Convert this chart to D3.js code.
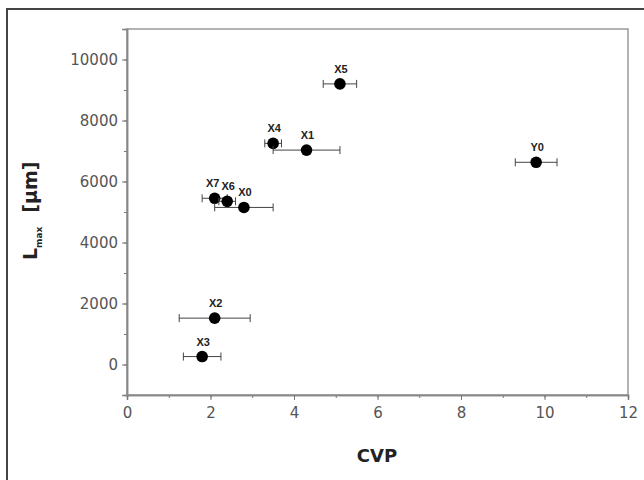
<!DOCTYPE html>
<head>
  <meta charset="utf-8">
  <script src="https://cdn.jsdelivr.net/npm/d3@7"></script>
  <style>
    body { margin:0; background:#fff; }
    .tick text { font-family: "DejaVu Sans", sans-serif; font-size: 15px; fill: #555; }
    .lbl { font-family: Arial, "Liberation Sans", sans-serif; font-weight: bold; font-size: 11px; fill: #222; }
    .title { font-family: "DejaVu Sans", sans-serif; font-weight: bold; fill: #222; }
  </style>
</head>
<body>
<script>
  // data
  var names = ["X5", "X4", "X1", "Y0", "X7", "X6", "X0", "X2", "X3"];
  var cvp   = [5.1, 3.5, 4.3, 9.8, 2.1, 2.4, 2.8, 2.1, 1.8];
  var cvpErr = [0.4, 0.2, 0.8, 0.5, 0.3, 0.2, 0.7, 0.85, 0.45];
  var lmax  = [9200, 7250, 7030, 6630, 5450, 5350, 5150, 1520, 260];
  var xTicks = [0, 2, 4, 6, 8, 10, 12];
  var yTicks = [0, 2000, 4000, 6000, 8000, 10000];

  var width = 644, height = 480;
  var margin = {top: 29, left: 127, right: 16, bottom: 85};

  var svg = d3.select("body").append("svg")
      .attr("width", width)
      .attr("height", height);

  // outer frame (only top + left visible in the picture)
  svg.append("path")
      .attr("d", "M7,480V9H644")
      .attr("fill", "none")
      .attr("stroke", "#444")
      .attr("stroke-width", 2);

  var x = d3.scaleLinear().domain([0, 12]).range([margin.left, width - margin.right]);
  var y = d3.scaleLinear().domain([-1000, 11000]).range([height - margin.bottom, margin.top]);

  // box
  svg.append("rect")
      .attr("x", x(0)).attr("y", y(11000))
      .attr("width", x(12) - x(0)).attr("height", y(-1000) - y(11000))
      .attr("fill", "none").attr("stroke", "#999").attr("stroke-width", 1.5);

  // minor ticks
  var xAxisMinor = d3.axisBottom(x).tickValues(d3.range(0, 13, 1)).tickSize(3).tickFormat("");
  var yAxisMinor = d3.axisLeft(y).tickValues(d3.range(-1000, 11001, 1000)).tickSize(3).tickFormat("");
  svg.append("g").attr("transform", "translate(0," + y(-1000) + ")").call(xAxisMinor);
  svg.append("g").attr("transform", "translate(" + x(0) + ",0)").call(yAxisMinor);

  var gx = svg.append("g")
      .attr("transform", "translate(0," + y(-1000) + ")")
      .call(d3.axisBottom(x).tickValues(xTicks).tickSize(5).tickPadding(7).tickFormat(d3.format("d")));
  var gy = svg.append("g")
      .attr("transform", "translate(" + x(0) + ",0)")
      .call(d3.axisLeft(y).tickValues(yTicks).tickSize(5).tickPadding(4).tickFormat(d3.format("d")));

  svg.selectAll(".domain").attr("stroke", "#888").attr("stroke-width", 1.5);
  svg.selectAll(".tick line").attr("stroke", "#777");

  // error bars
  var pts = names.map(function(n, i) {
    return {name: n, x: cvp[i], e: cvpErr[i], y: lmax[i]};
  });

  var eb = svg.append("g").selectAll("g").data(pts).enter().append("g");
  eb.append("line")
      .attr("x1", function(d) { return x(d.x - d.e); })
      .attr("x2", function(d) { return x(d.x + d.e); })
      .attr("y1", function(d) { return y(d.y); })
      .attr("y2", function(d) { return y(d.y); })
      .attr("stroke", "#444").attr("stroke-width", 1);
  [-1, 1].forEach(function(s) {
    eb.append("line")
        .attr("x1", function(d) { return x(d.x + s * d.e); })
        .attr("x2", function(d) { return x(d.x + s * d.e); })
        .attr("y1", function(d) { return y(d.y) - 4; })
        .attr("y2", function(d) { return y(d.y) + 4; })
        .attr("stroke", "#444").attr("stroke-width", 1);
  });

  eb.append("circle")
      .attr("cx", function(d) { return x(d.x); })
      .attr("cy", function(d) { return y(d.y); })
      .attr("r", 5.8)
      .attr("fill", "#000");

  eb.append("text")
      .attr("class", "lbl")
      .attr("x", function(d) { return x(d.x) + (d.name == "X7" ? -2 : 1); })
      .attr("y", function(d) { return y(d.y) - 11; })
      .attr("text-anchor", "middle")
      .text(function(d) { return d.name; });

  // axis titles
  svg.append("text")
      .attr("class", "title")
      .attr("x", 377)
      .attr("y", 462)
      .attr("text-anchor", "middle")
      .style("font-size", "18px")
      .text("CVP");

  var yt = svg.append("text")
      .attr("class", "title")
      .attr("transform", "translate(37,260) rotate(-90)")
      .attr("text-anchor", "start")
      .style("font-size", "19px");
  yt.append("tspan").text("L");
  yt.append("tspan").attr("dy", 5).style("font-size", "9px").text("max");
  yt.append("tspan").attr("dy", -5).attr("dx", 14).text("[\u00b5m]");
</script>
</body>
